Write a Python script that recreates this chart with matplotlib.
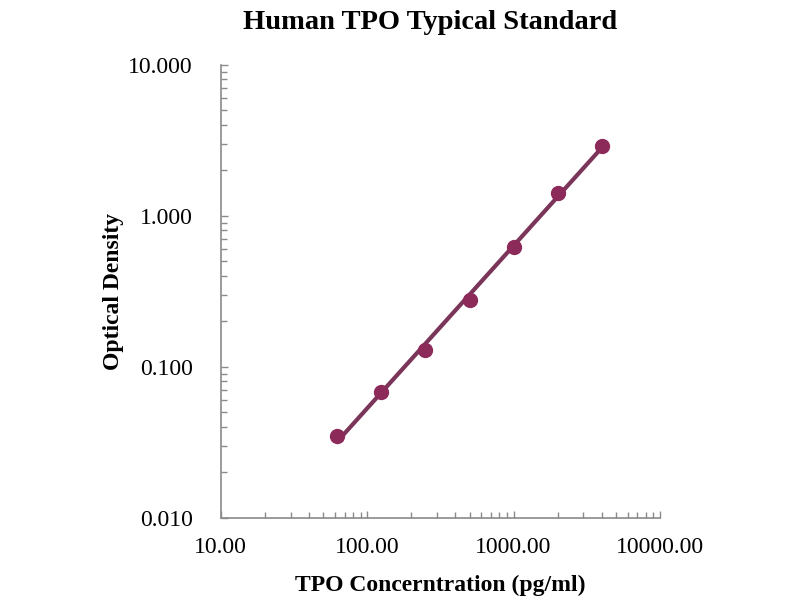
import numpy as np
import matplotlib.pyplot as plt
from matplotlib.ticker import FixedLocator, LogLocator, NullFormatter

# standard curve readings
conc = [62.5, 125, 250, 500, 1000, 2000, 4000]
od = [0.035, 0.068, 0.130, 0.278, 0.625, 1.42, 2.90]

x_ticks = [10, 100, 1000, 10000]
x_labels = ["10.00", "100.00", "1000.00", "10000.00"]
y_ticks = [0.01, 0.1, 1, 10]
y_labels = ["0.010", "0.100", "1.000", "10.000"]

plt.rcParams['font.family'] = ['Liberation Serif', 'DejaVu Serif']

fig = plt.figure(figsize=(8, 6), dpi=100)
ax = fig.add_axes([0.276, 0.137, 0.549, 0.755])

# power trend line, fitted in log space
k, b = np.polyfit(np.log10(conc), np.log10(od), 1)
xs = np.array([conc[0], conc[-1]])
ax.plot(xs, 10 ** (k * np.log10(xs) + b), color='#7a3559', lw=3, zorder=2)
ax.plot(conc, od, 'o', color='#8c2a5a', ms=10, zorder=3)

ax.set_xscale('log')
ax.set_yscale('log')
ax.set_xlim(10, 10000)
ax.set_ylim(0.01, 10)

ax.xaxis.set_major_locator(FixedLocator(x_ticks))
ax.set_xticklabels(x_labels)
ax.yaxis.set_major_locator(FixedLocator(y_ticks))
ax.set_yticklabels(y_labels)
ax.xaxis.set_minor_locator(LogLocator(base=10, subs=np.arange(2, 10)))
ax.yaxis.set_minor_locator(LogLocator(base=10, subs=np.arange(2, 10)))
ax.xaxis.set_minor_formatter(NullFormatter())
ax.yaxis.set_minor_formatter(NullFormatter())

for s in ['top', 'right']:
    ax.spines[s].set_visible(False)
for s in ['left', 'bottom']:
    ax.spines[s].set_color('#8a8a8a')
    ax.spines[s].set_linewidth(1.2)

ax.tick_params(which='both', direction='in', color='#8a8a8a', width=1)
ax.tick_params(which='major', length=5, labelsize=17)
ax.tick_params(axis='y', which='major', pad=20)
ax.tick_params(axis='x', which='major', pad=14)
ax.tick_params(which='minor', length=4)

ax.set_title("Human TPO Typical Standard", fontsize=20.5, fontweight='bold',
             pad=26, x=0.477)
ax.set_xlabel("TPO Concerntration (pg/ml)", fontsize=17, fontweight='bold', labelpad=12)
ax.set_ylabel("Optical Density", fontsize=17, fontweight='bold', labelpad=3)

fig.savefig("out.png", dpi=100)
